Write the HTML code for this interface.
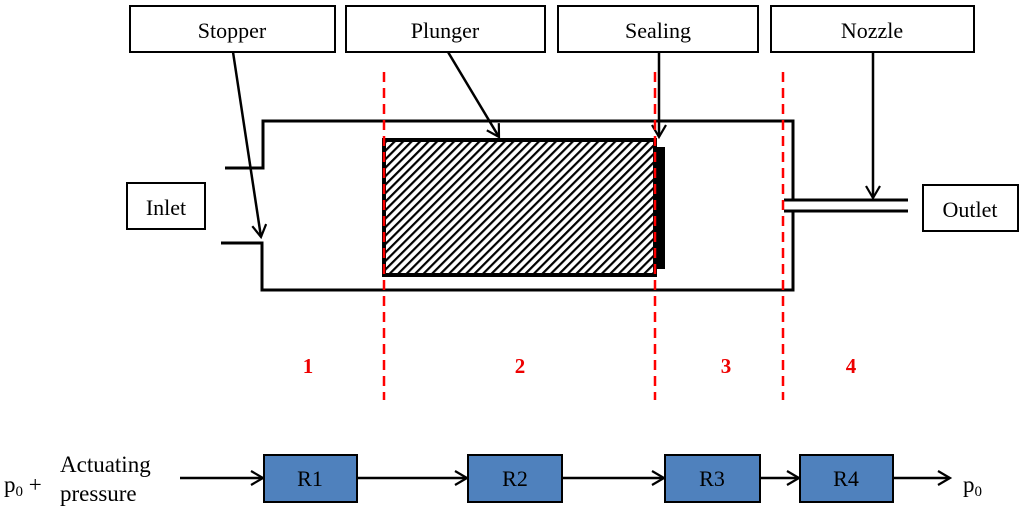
<!DOCTYPE html>
<html><head><meta charset="utf-8"><style>
html,body{margin:0;padding:0;background:#fff;}
svg{display:block;}
text{font-family:"Liberation Serif",serif;}
</style></head><body>
<svg width="1024" height="511" viewBox="0 0 1024 511" xmlns="http://www.w3.org/2000/svg">
<defs>
<pattern id="h" width="6" height="6" patternUnits="userSpaceOnUse" patternTransform="rotate(45)">
<rect width="6" height="6" fill="#fff"/><rect width="2.2" height="6" fill="#000"/></pattern>
<marker id="a" markerWidth="16" markerHeight="16" refX="13" refY="8" orient="auto" markerUnits="userSpaceOnUse">
<path d="M1,1 L13,8 L1,15" fill="none" stroke="#000" stroke-width="2.2"/></marker>
</defs>
<g fill="#fff" stroke="#000" stroke-width="2">
<rect x="130" y="6" width="205" height="46"/>
<rect x="346" y="6" width="199" height="46"/>
<rect x="558" y="6" width="200" height="46"/>
<rect x="771" y="6" width="203" height="46"/>
<rect x="127" y="183" width="78" height="46"/>
<rect x="923" y="185" width="95" height="46"/>
</g>
<g font-size="22" text-anchor="middle" fill="#000">
<text x="232" y="38">Stopper</text>
<text x="445" y="38">Plunger</text>
<text x="658" y="38">Sealing</text>
<text x="872" y="38">Nozzle</text>
<text x="166" y="215">Inlet</text>
<text x="970" y="217">Outlet</text>
</g>
<g fill="none" stroke="#000" stroke-width="3">
<path d="M225,168 H263 V121 H793 V200"/>
<path d="M221,243 H262 V290 H793 V211"/>
<path d="M784,200 H908 M784,211 H908"/>
</g>
<rect x="384" y="140" width="271" height="135" fill="url(#h)" stroke="#000" stroke-width="4"/>
<rect x="656" y="147" width="9" height="122" fill="#000"/>
<g stroke="#000" stroke-width="2.5" marker-end="url(#a)">
<line x1="233" y1="52" x2="261" y2="237"/>
<line x1="448" y1="52" x2="499" y2="137"/>
<line x1="659" y1="52" x2="659" y2="137"/>
<line x1="873" y1="52" x2="873" y2="198"/>
</g>
<g stroke="#f00" stroke-width="2.5" stroke-dasharray="10,6">
<line x1="384" y1="72" x2="384" y2="400"/>
<line x1="655" y1="72" x2="655" y2="400"/>
<line x1="783" y1="72" x2="783" y2="400"/>
</g>
<g font-size="21" font-weight="bold" fill="#e00" text-anchor="middle">
<text x="308" y="373">1</text><text x="520" y="373">2</text><text x="726" y="373">3</text><text x="851" y="373">4</text>
</g>
<g stroke="#000" stroke-width="2.5" marker-end="url(#a)">
<line x1="180" y1="478" x2="263" y2="478"/>
<line x1="357" y1="478" x2="467" y2="478"/>
<line x1="562" y1="478" x2="664" y2="478"/>
<line x1="760" y1="478" x2="799" y2="478"/>
<line x1="893" y1="478" x2="950" y2="478"/>
</g>
<g fill="#4f81bd" stroke="#000" stroke-width="2">
<rect x="264" y="455" width="93" height="47"/>
<rect x="468" y="455" width="94" height="47"/>
<rect x="665" y="455" width="95" height="47"/>
<rect x="800" y="455" width="93" height="47"/>
</g>
<g font-size="22" fill="#000" text-anchor="middle">
<text x="310" y="486">R1</text><text x="515" y="486">R2</text><text x="712" y="486">R3</text><text x="846" y="486">R4</text>
</g>
<g font-size="23" fill="#000">
<text x="4" y="492">p<tspan font-size="15" dy="4">0</tspan><tspan dy="-4"> +</tspan></text>
<text x="60" y="472">Actuating</text>
<text x="60" y="501">pressure</text>
<text x="963" y="492">p<tspan font-size="15" dy="4">0</tspan></text>
</g>
</svg>
</body></html>
